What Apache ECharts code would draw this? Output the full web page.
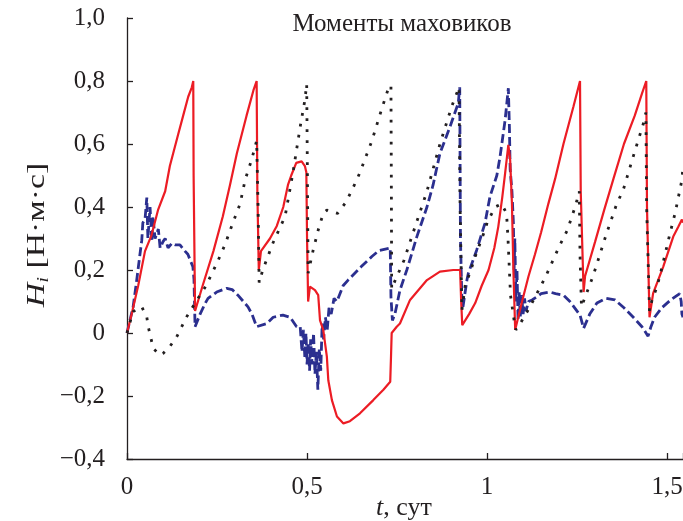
<!DOCTYPE html>
<html>
<head>
<meta charset="utf-8">
<script src="https://cdn.jsdelivr.net/npm/echarts@6/dist/echarts.min.js"></script>
<style>
  html, body { margin: 0; padding: 0; background: #fff; }
  #main { width: 683px; height: 521px; }
</style>
</head>
<body>
<div id="main"></div>
<script>
// время, сут, и моменты маховиков, Н·м·с
var redT = [0, 0.013, 0.031, 0.05, 0.068, 0.086, 0.106, 0.119, 0.142, 0.156, 0.17, 0.18, 0.184,
  0.185, 0.189, 0.21, 0.24, 0.266, 0.286, 0.305, 0.332, 0.351, 0.36,
  0.362, 0.366, 0.372, 0.397, 0.416, 0.434, 0.447, 0.456, 0.47, 0.485, 0.494, 0.498,
  0.5, 0.503, 0.508, 0.522, 0.531, 0.536, 0.545, 0.555, 0.559, 0.569, 0.583, 0.601, 0.619, 0.647, 0.684, 0.712, 0.731,
  0.733, 0.735, 0.749, 0.758, 0.786, 0.833, 0.869, 0.906, 0.925,
  0.928, 0.931, 0.95, 0.967, 0.985, 1.004, 1.02, 1.031, 1.042, 1.05, 1.059, 1.064, 1.069, 1.073, 1.078,
  1.096, 1.115, 1.133, 1.15, 1.17, 1.189, 1.212, 1.24, 1.258,
  1.26, 1.268, 1.272, 1.3, 1.325, 1.351, 1.38, 1.41, 1.43, 1.442,
  1.444, 1.451, 1.461, 1.489, 1.517, 1.531, 1.541, 1.544];
var redH = [0, 0.06, 0.15, 0.26, 0.31, 0.39, 0.45, 0.53, 0.63, 0.69, 0.75, 0.78, 0.8,
  0.5, 0.07, 0.15, 0.26, 0.37, 0.47, 0.57, 0.69, 0.77, 0.8,
  0.45, 0.2, 0.26, 0.3, 0.34, 0.4, 0.47, 0.5, 0.54, 0.545, 0.53, 0.51,
  0.3, 0.1, 0.147, 0.136, 0.12, 0.04, 0.01, -0.075, -0.15, -0.213, -0.265, -0.287, -0.28, -0.255, -0.213, -0.18, -0.155,
  -0.08, 0, 0.02, 0.03, 0.105, 0.168, 0.195, 0.2, 0.2,
  0.1, 0.025, 0.06, 0.095, 0.15, 0.2, 0.27, 0.337, 0.43, 0.507, 0.597, 0.55, 0.41, 0.2, 0.01,
  0.095, 0.18, 0.25, 0.32, 0.41, 0.49, 0.6, 0.72, 0.8,
  0.45, 0.13, 0.18, 0.29, 0.39, 0.49, 0.6, 0.69, 0.76, 0.8,
  0.4, 0.05, 0.126, 0.21, 0.306, 0.337, 0.36, 0.35];

var blueT = [0, 0.017, 0.027, 0.036, 0.041, 0.044, 0.05, 0.055, 0.058, 0.064, 0.069, 0.072, 0.078, 0.087, 0.092, 0.1, 0.106, 0.114, 0.125, 0.133, 0.147, 0.161, 0.169, 0.183, 0.186, 0.189,
  0.203, 0.217, 0.225, 0.249, 0.277, 0.292, 0.308, 0.336, 0.347, 0.36, 0.364, 0.388, 0.406, 0.433, 0.453, 0.471,
  0.481, 0.486, 0.49, 0.494, 0.497, 0.5, 0.503, 0.507, 0.51, 0.514, 0.518, 0.522, 0.526, 0.53, 0.534, 0.538, 0.542, 0.546, 0.551, 0.556, 0.561, 0.567, 0.575, 0.583, 0.6, 0.614, 0.65, 0.68, 0.7, 0.731,
  0.733, 0.737, 0.744, 0.758, 0.777, 0.805, 0.833, 0.85, 0.869, 0.897, 0.92, 0.924,
  0.926, 0.93, 0.933, 0.944, 0.948, 0.971, 0.994, 1.008, 1.027, 1.036, 1.05, 1.059,
  1.062, 1.064, 1.069, 1.073, 1.075, 1.077, 1.08, 1.083, 1.086, 1.089, 1.092, 1.096, 1.1, 1.104, 1.108, 1.115, 1.125, 1.138, 1.15, 1.175, 1.19, 1.212, 1.23, 1.258, 1.268,
  1.285, 1.305, 1.33, 1.355, 1.38, 1.406, 1.43, 1.447, 1.455, 1.465, 1.485, 1.51, 1.535, 1.539, 1.541, 1.544];
var blueH = [0, 0.083, 0.168, 0.25, 0.294, 0.35, 0.36, 0.43, 0.3, 0.4, 0.29, 0.37, 0.3, 0.33, 0.27, 0.29, 0.3, 0.27, 0.285, 0.28, 0.28, 0.26, 0.25, 0.21, 0.17, 0.02,
  0.06, 0.094, 0.11, 0.13, 0.142, 0.138, 0.12, 0.083, 0.06, 0.02, 0.015, 0.03, 0.05, 0.057, 0.05, 0.02,
  0.02, -0.06, 0.01, -0.08, 0, -0.1, -0.03, -0.12, -0.02, -0.1, 0, -0.13, -0.06, -0.18, -0.05, -0.12, 0.03, -0.02, 0.05, 0.01, 0.08, 0.06, 0.11, 0.1, 0.15, 0.168, 0.21, 0.243, 0.262, 0.27,
  0.115, 0.04, 0.06, 0.136, 0.2, 0.306, 0.4, 0.47, 0.57, 0.655, 0.73, 0.78,
  0.3, 0.105, 0.083, 0.168, 0.19, 0.263, 0.348, 0.433, 0.5, 0.56, 0.676, 0.777,
  0.65, 0.52, 0.45, 0.35, 0.2, 0.3, 0.1, 0.2, 0.04, 0.13, 0.05, 0.12, 0.06, 0.11, 0.07, 0.1, 0.105, 0.115, 0.125, 0.13, 0.125, 0.12, 0.1, 0.057, 0.015,
  0.06, 0.095, 0.11, 0.105, 0.08, 0.05, 0.02, -0.01, 0.02, 0.05, 0.08, 0.105, 0.125, 0.1, 0.06, 0.05];

var blackT = [0, 0.017, 0.041, 0.055, 0.059, 0.073, 0.092, 0.1, 0.119, 0.138, 0.152, 0.166, 0.18, 0.2, 0.218, 0.232, 0.249, 0.272, 0.294, 0.314, 0.328, 0.346, 0.36,
  0.364, 0.367, 0.377, 0.405, 0.439, 0.461, 0.481, 0.494, 0.499,
  0.501, 0.503, 0.517, 0.531, 0.545, 0.555, 0.57, 0.585, 0.609, 0.623, 0.638, 0.647, 0.68, 0.707, 0.726, 0.733,
  0.734, 0.735, 0.745, 0.769, 0.797, 0.833, 0.869, 0.902, 0.922,
  0.925, 0.93, 0.939, 0.955, 0.967, 0.994, 1.0, 1.022, 1.04, 1.054,
  1.058, 1.065, 1.075, 1.08, 1.092, 1.119, 1.163, 1.2, 1.223, 1.246, 1.256,
  1.258, 1.262, 1.294, 1.332, 1.36, 1.378, 1.411, 1.434, 1.441,
  1.443, 1.451, 1.458, 1.472, 1.486, 1.508, 1.522, 1.541, 1.544];
var blackH = [0, 0.068, 0.083, 0.05, 0.02, -0.049, -0.07, -0.065, -0.043, -0.012, 0.02, 0.052, 0.078, 0.115, 0.147, 0.18, 0.22, 0.28, 0.35, 0.41, 0.486, 0.55, 0.61,
  0.4, 0.16, 0.2, 0.285, 0.37, 0.51, 0.655, 0.74, 0.79,
  0.5, 0.19, 0.263, 0.327, 0.38, 0.39, 0.385, 0.38, 0.417, 0.45, 0.486, 0.51, 0.61, 0.71, 0.777, 0.787,
  0.5, 0.14, 0.168, 0.23, 0.327, 0.45, 0.6, 0.72, 0.78,
  0.4, 0.073, 0.15, 0.2, 0.243, 0.327, 0.35, 0.4, 0.41, 0.38,
  0.3, 0.12, 0.04, 0.01, 0.03, 0.083, 0.18, 0.274, 0.327, 0.406, 0.45,
  0.25, 0.083, 0.18, 0.317, 0.41, 0.454, 0.58, 0.665, 0.7,
  0.4, 0.07, 0.105, 0.147, 0.21, 0.317, 0.38, 0.486, 0.53];

var FONT = '"Liberation Serif", "DejaVu Serif", serif';
var INK = '#231f20';

function zip(t, h) {
  return t.map(function (v, i) { return [v, h[i]]; });
}

// 0,5 / −0,2 — запятая и настоящий минус
function fmt(v, shortOne) {
  var r = Math.round(v * 10) / 10;
  if (r === 0) return '0';
  var s = (Math.abs(r) === 1 && shortOne) ? '1' : r.toFixed(1);
  return s.replace('.', ',').replace('-', '\u2212');
}

var chart = echarts.init(document.getElementById('main'));

var option = {
  animation: false,
  backgroundColor: '#fff',
  grid: { left: 127, right: 0, top: 18, bottom: 62, outerBoundsMode: 'none', containLabel: false },
  graphic: [{
    type: 'text',
    x: 402,
    y: 24,
    style: {
      text: 'Моменты маховиков',
      fontFamily: FONT,
      fontSize: 25,
      fill: INK,
      align: 'center',
      verticalAlign: 'middle'
    }
  }, {
    // подпись оси ординат
    type: 'text',
    x: 37,
    y: 235,
    rotation: Math.PI / 2,
    scaleX: 1.3,
    style: {
      text: '{i|H}{s|i} [Н·м·с]',
      fontFamily: FONT,
      fontSize: 26,
      fill: INK,
      align: 'center',
      verticalAlign: 'middle',
      rich: {
        i: { fontFamily: FONT, fontSize: 26, fontStyle: 'italic', fill: INK, lineHeight: 30 },
        s: { fontFamily: FONT, fontSize: 16, fontStyle: 'italic', fill: INK, lineHeight: 16, verticalAlign: 'bottom' }
      }
    }
  }, {
    // подпись оси абсцисс
    type: 'text',
    x: 404,
    y: 508,
    style: {
      text: '{i|t}, сут',
      fontFamily: FONT,
      fontSize: 26,
      fill: INK,
      align: 'center',
      verticalAlign: 'middle',
      rich: { i: { fontFamily: FONT, fontSize: 26, fontStyle: 'italic', fill: INK } }
    }
  }],
  xAxis: {
    type: 'value',
    min: 0,
    max: 1.544,
    interval: 0.5,
    axisLine: { onZero: false, lineStyle: { color: INK, width: 1.3 } },
    axisTick: { inside: true, length: 6, lineStyle: { color: INK, width: 1.3 } },
    splitLine: { show: false },
    axisLabel: {
      margin: 16,
      fontFamily: FONT, fontSize: 25, color: INK,
      formatter: function (v) {
        if (Math.abs(v * 2 - Math.round(v * 2)) > 1e-6) return '';
        return fmt(v, true);
      }
    }
  },
  yAxis: {
    type: 'value',
    min: -0.4,
    max: 1.0,
    interval: 0.2,
    axisLine: { onZero: false, lineStyle: { color: INK, width: 1.3 } },
    axisTick: { inside: true, length: 6, lineStyle: { color: INK, width: 1.3 } },
    splitLine: { show: false },
    axisLabel: {
      margin: 22,
      fontFamily: FONT, fontSize: 25, color: INK,
      formatter: function (v) { return fmt(v, false); }
    }
  },
  series: [
    {
      name: 'H2',
      type: 'line',
      data: zip(blueT, blueH),
      showSymbol: false,
      lineStyle: { color: '#2b2f8f', width: 2.8, type: [9, 4] },
      z: 2
    },
    {
      name: 'H1',
      type: 'line',
      data: zip(redT, redH),
      showSymbol: false,
      lineStyle: { color: '#ec1c24', width: 2.2 },
      z: 3
    },
    {
      name: 'H3',
      type: 'line',
      data: zip(blackT, blackH),
      showSymbol: false,
      lineStyle: { color: INK, width: 2.8, type: [2.8, 8.2] },
      z: 4
    }
  ]
};

chart.setOption(option);
</script>
</body>
</html>
